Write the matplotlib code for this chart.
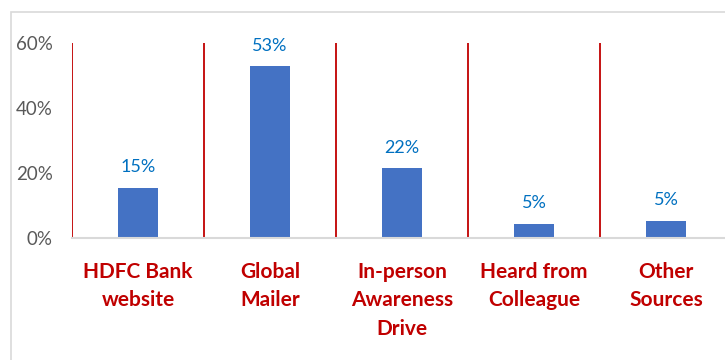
import matplotlib
matplotlib.use("Agg")
import matplotlib.pyplot as plt
from matplotlib.patches import Rectangle

categories = ["HDFC Bank\nwebsite", "Global\nMailer", "In-person\nAwareness\nDrive",
              "Heard from\nColleague", "Other\nSources"]
values = [0.154, 0.529, 0.215, 0.044, 0.053]
labels = ["15%", "53%", "22%", "5%", "5%"]
yticks = [0, 0.2, 0.4, 0.6]
ytick_labels = ["0%", "20%", "40%", "60%"]

plt.rcParams['font.family'] = ['Lato', 'DejaVu Sans']

fig = plt.figure(figsize=(7.25, 3.6), dpi=100)
fig.patches.append(Rectangle((11/725, -0.1), 1.2, 1 - 12/360 + 0.1, transform=fig.transFigure,
                             fill=False, edgecolor="#D9D9D9", linewidth=1.2))
ax = fig.add_axes([72/725, 1 - 238/360, 660/725, 195/360])

x = list(range(len(categories)))
ax.bar(x, values, width=0.3, color="#4472C4", zorder=3)
for xi, v, lab in zip(x, values, labels):
    ax.annotate(lab, (xi, v), xytext=(0, 9), textcoords="offset points",
                ha="center", va="bottom", color="#0070C0", fontsize=13)
for b in [-0.5, 0.5, 1.5, 2.5, 3.5]:
    ax.axvline(b, color="#C00000", linewidth=1.3, zorder=2)

ax.set_xlim(-0.5, 4.5)
ax.set_ylim(0, 0.6)
ax.set_yticks(yticks)
ax.set_yticklabels(ytick_labels, color="#595959", fontsize=13.5)
ax.set_xticks(x)
ax.set_xticklabels(categories, color="#C00000", fontsize=15, fontweight="bold",
                   linespacing=1.55, va="top")
ax.tick_params(axis="x", length=0, pad=17)
ax.tick_params(axis="y", length=0, pad=14)
for s in ["top", "right", "left"]:
    ax.spines[s].set_visible(False)
ax.spines["bottom"].set_color("#D9D9D9")
ax.spines["bottom"].set_linewidth(1.5)
ax.spines["bottom"].set_zorder(4)

fig.savefig("out.png", dpi=100)
